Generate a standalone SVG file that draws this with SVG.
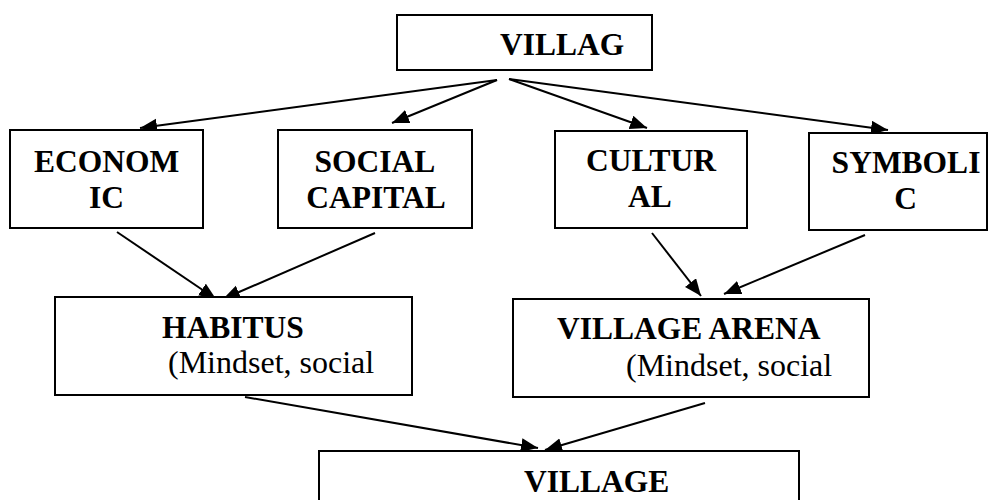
<svg xmlns="http://www.w3.org/2000/svg" width="989" height="500" viewBox="0 0 989 500">
<style>
  .box { fill: #ffffff; stroke: #000000; stroke-width: 2; }
  .b { font-family: "Liberation Serif", "Times New Roman", serif; font-weight: bold; font-size: 31.5px; fill: #000; }
  .r { font-family: "Liberation Serif", "Times New Roman", serif; font-size: 32px; fill: #000; }
  .c { text-anchor: middle; }
  .edge { stroke: #000; stroke-width: 2; fill: none; marker-end: url(#arr); }
</style>
<defs>
  <marker id="arr" markerUnits="userSpaceOnUse" markerWidth="18" markerHeight="15" refX="17" refY="7" orient="auto">
    <path d="M0,0 L17,7 L0,14 Z" fill="#000"/>
  </marker>
</defs>
<rect width="989" height="500" fill="#ffffff"/>
<g id="connectors">
  <line class="edge" x1="497" y1="80" x2="140" y2="128"/>
  <line class="edge" x1="497" y1="80" x2="392" y2="123"/>
  <line class="edge" x1="509" y1="79" x2="647" y2="128"/>
  <line class="edge" x1="509" y1="79" x2="888" y2="130"/>
  <line class="edge" x1="117" y1="232" x2="216" y2="299"/>
  <line class="edge" x1="375" y1="233" x2="223" y2="299"/>
  <line class="edge" x1="652" y1="233" x2="701" y2="296"/>
  <line class="edge" x1="865" y1="235" x2="724" y2="294"/>
  <line class="edge" x1="245" y1="397" x2="538" y2="448"/>
  <line class="edge" x1="705" y1="403" x2="545" y2="450"/>
</g>
<g id="village-top">
  <rect class="box" x="397" y="15" width="255" height="55"/>
  <text class="b" x="500" y="55">VILLAG</text>
</g>
<g id="economic">
  <rect class="box" x="10" y="130" width="193" height="98"/>
  <text class="b c" x="106.5" y="172">ECONOM</text>
  <text class="b c" x="106.5" y="208">IC</text>
</g>
<g id="social-capital">
  <rect class="box" x="278" y="130" width="194" height="98"/>
  <text class="b c" x="375" y="172">SOCIAL</text>
  <text class="b c" x="376" y="208">CAPITAL</text>
</g>
<g id="cultural">
  <rect class="box" x="555" y="131" width="192" height="97"/>
  <text class="b c" x="651" y="171">CULTUR</text>
  <text class="b c" x="650" y="207">AL</text>
</g>
<g id="symbolic">
  <rect class="box" x="809" y="133" width="178" height="97"/>
  <text class="b c" x="906" y="173">SYMBOLI</text>
  <text class="b c" x="905.5" y="209">C</text>
</g>
<g id="habitus">
  <rect class="box" x="55" y="297" width="357" height="98"/>
  <text class="b" x="162" y="338">HABITUS</text>
  <text class="r" x="168" y="373">(Mindset, social</text>
</g>
<g id="village-arena">
  <rect class="box" x="513" y="299" width="356" height="98"/>
  <text class="b" x="557" y="339">VILLAGE ARENA</text>
  <text class="r" x="626" y="376">(Mindset, social</text>
</g>
<g id="village-bottom">
  <rect class="box" x="319" y="451" width="480" height="60"/>
  <text class="b" x="524" y="492">VILLAGE</text>
</g>
</svg>
